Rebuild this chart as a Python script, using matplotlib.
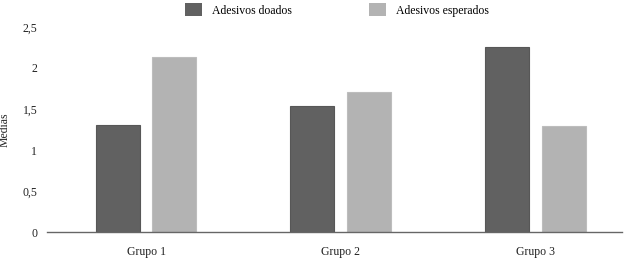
import numpy as np
import matplotlib.pyplot as plt
from matplotlib.patches import Patch

plt.rcParams['font.family'] = ['Liberation Serif', 'DejaVu Serif']

# data
groups = ["Grupo 1", "Grupo 2", "Grupo 3"]
doados = [1.31, 1.54, 2.25]
esperados = [2.13, 1.71, 1.29]
series_names = ["Adesivos doados", "Adesivos esperados"]
yticks = [0, 0.5, 1, 1.5, 2, 2.5]
ytick_labels = ["0", "0,5", "1", "1,5", "2", "2,5"]

dark = "#616161"
light = "#b3b3b3"

fig = plt.figure(figsize=(6.24, 2.59), dpi=100)
ax = fig.add_axes([0.0753, 0.1042, 0.922, 0.7916])

x = np.arange(len(groups))
w = 0.226
off = 0.146
ax.bar(x - off, doados, w, color=dark, edgecolor="#575757", linewidth=0.8)
ax.bar(x + off, esperados, w, color=light, edgecolor="#bdbdbd", linewidth=0.8)

ax.set_xlim(-0.509, 2.447)
ax.set_ylim(0, 2.5)
ax.set_yticks(yticks)
ax.set_yticklabels(ytick_labels)
ax.set_xticks(x)
ax.set_xticklabels(groups)
ax.tick_params(axis="both", length=0, labelsize=8.5, colors="#222222")
ax.tick_params(axis="y", pad=7)
ax.tick_params(axis="x", pad=10)

for s in ["top", "right", "left"]:
    ax.spines[s].set_visible(False)
ax.spines["bottom"].set_color("#666666")
ax.spines["bottom"].set_linewidth(1.0)

ax.set_ylabel("Médias", fontsize=8.5, color="#222222")
ax.yaxis.set_label_coords(-0.063, 0.5)

handles = [Patch(facecolor=dark, edgecolor="none"),
           Patch(facecolor=light, edgecolor="none")]
fig.legend(handles, series_names, loc="upper left", bbox_to_anchor=(0.28, 1.03),
           ncol=2, frameon=False, fontsize=8.5, handlelength=1.4, handleheight=1.4,
           columnspacing=6.5, handletextpad=0.9)

fig.savefig("out.png", dpi=100)
